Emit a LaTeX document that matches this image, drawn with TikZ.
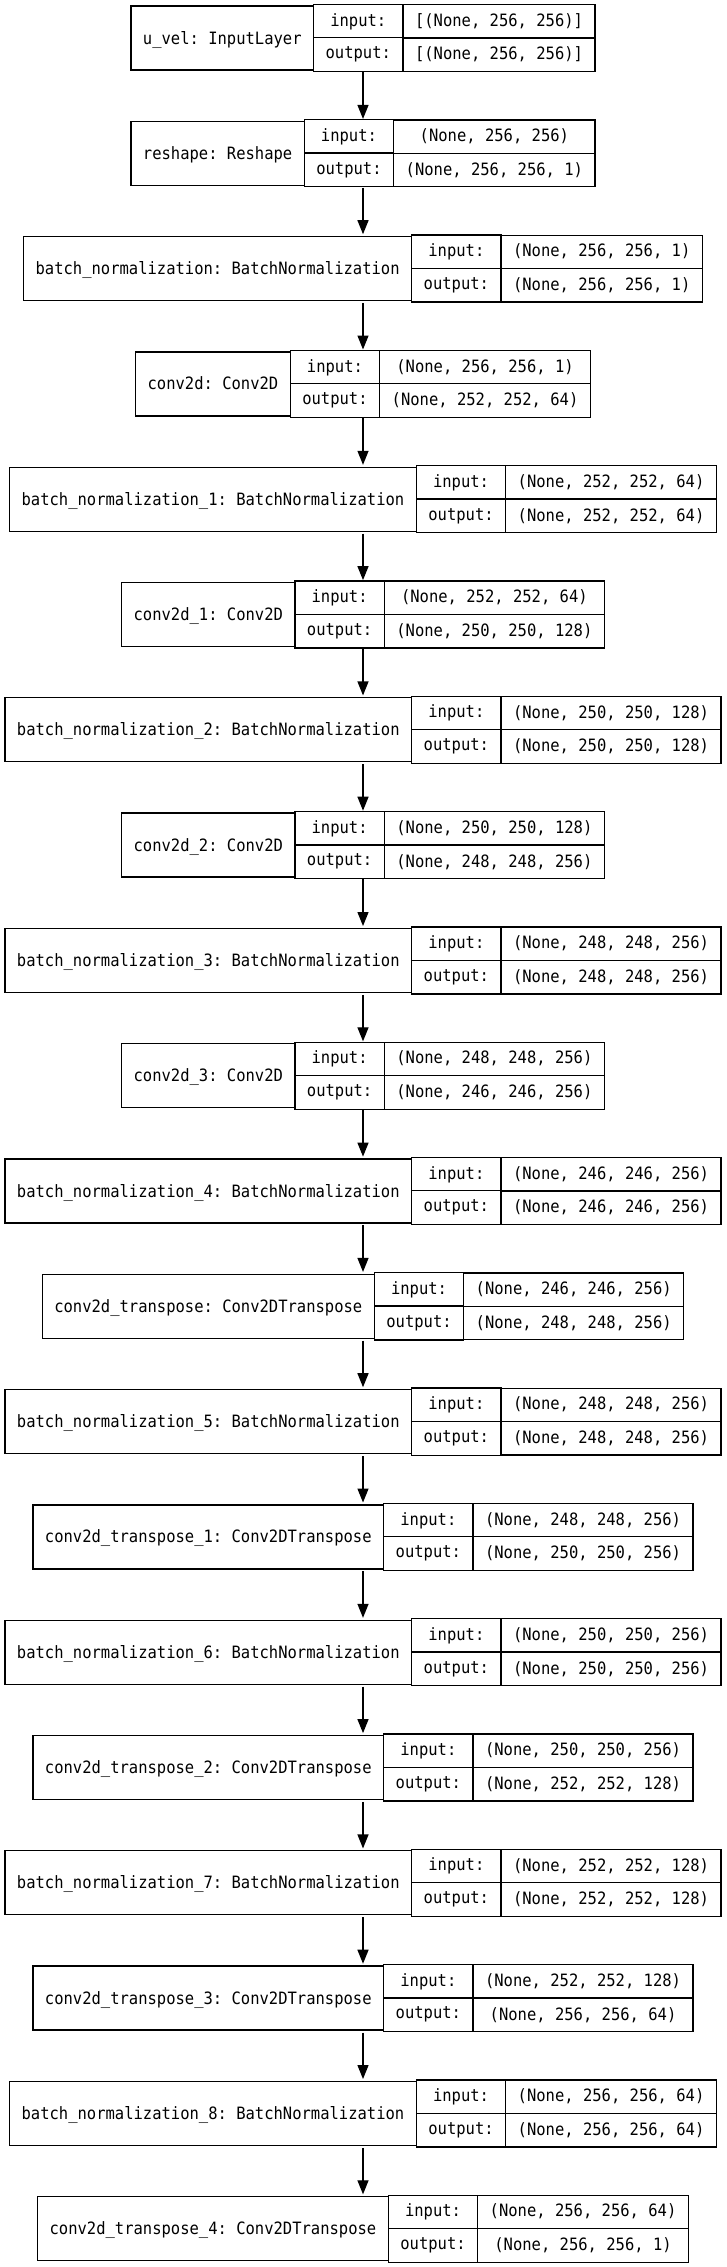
\documentclass[tikz,border=0pt]{standalone}
\usepackage{fontspec}
\setmonofont[FakeStretch=0.912]{DejaVu Sans Mono}
\usetikzlibrary{matrix,shapes.multipart,arrows.meta,positioning}

\begin{document}
\begin{tikzpicture}[x=1pt,y=-1pt,
    layer/.style={matrix of nodes, inner sep=0pt, column sep=-1.3pt,
        nodes={draw, line width=1.3pt, anchor=center, inner xsep=12pt, inner ysep=8.5pt,
            text height=12.5pt, text depth=2.5pt, font=\ttfamily\fontsize{17}{20}\selectfont},
        column 1/.style={nodes={minimum height=64pt, text height=13pt, text depth=1pt}},
        column 2/.style={nodes={rectangle split, rectangle split parts=2}},
        column 3/.style={nodes={rectangle split, rectangle split parts=2}}},
    flow/.style={line width=1.3pt, -{Triangle[length=14pt,width=11pt]}}]
    \useasboundingbox (0,0) rectangle (726,2267);

    \matrix (input) [layer] at (363,38) {u\_vel: InputLayer & input:\nodepart{two}output: & {[(None, 256, 256)]}\nodepart{two}{[(None, 256, 256)]} \\};
    \matrix (reshape) [layer] at (363,153.3) {reshape: Reshape & input:\nodepart{two}output: & (None, 256, 256)\nodepart{two}(None, 256, 256, 1) \\};
    \matrix (bn) [layer] at (363,268.6) {batch\_normalization: BatchNormalization & input:\nodepart{two}output: & (None, 256, 256, 1)\nodepart{two}(None, 256, 256, 1) \\};
    \matrix (conv) [layer] at (363,383.9) {conv2d: Conv2D & input:\nodepart{two}output: & (None, 256, 256, 1)\nodepart{two}(None, 252, 252, 64) \\};
    \matrix (bn1) [layer] at (363,499.2) {batch\_normalization\_1: BatchNormalization & input:\nodepart{two}output: & (None, 252, 252, 64)\nodepart{two}(None, 252, 252, 64) \\};
    \matrix (conv1) [layer] at (363,614.5) {conv2d\_1: Conv2D & input:\nodepart{two}output: & (None, 252, 252, 64)\nodepart{two}(None, 250, 250, 128) \\};
    \matrix (bn2) [layer] at (363,729.8) {batch\_normalization\_2: BatchNormalization & input:\nodepart{two}output: & (None, 250, 250, 128)\nodepart{two}(None, 250, 250, 128) \\};
    \matrix (conv2) [layer] at (363,845.1) {conv2d\_2: Conv2D & input:\nodepart{two}output: & (None, 250, 250, 128)\nodepart{two}(None, 248, 248, 256) \\};
    \matrix (bn3) [layer] at (363,960.4) {batch\_normalization\_3: BatchNormalization & input:\nodepart{two}output: & (None, 248, 248, 256)\nodepart{two}(None, 248, 248, 256) \\};
    \matrix (conv3) [layer] at (363,1075.7) {conv2d\_3: Conv2D & input:\nodepart{two}output: & (None, 248, 248, 256)\nodepart{two}(None, 246, 246, 256) \\};
    \matrix (bn4) [layer] at (363,1191) {batch\_normalization\_4: BatchNormalization & input:\nodepart{two}output: & (None, 246, 246, 256)\nodepart{two}(None, 246, 246, 256) \\};
    \matrix (tconv) [layer] at (363,1306.3) {conv2d\_transpose: Conv2DTranspose & input:\nodepart{two}output: & (None, 246, 246, 256)\nodepart{two}(None, 248, 248, 256) \\};
    \matrix (bn5) [layer] at (363,1421.6) {batch\_normalization\_5: BatchNormalization & input:\nodepart{two}output: & (None, 248, 248, 256)\nodepart{two}(None, 248, 248, 256) \\};
    \matrix (tconv1) [layer] at (363,1536.9) {conv2d\_transpose\_1: Conv2DTranspose & input:\nodepart{two}output: & (None, 248, 248, 256)\nodepart{two}(None, 250, 250, 256) \\};
    \matrix (bn6) [layer] at (363,1652.2) {batch\_normalization\_6: BatchNormalization & input:\nodepart{two}output: & (None, 250, 250, 256)\nodepart{two}(None, 250, 250, 256) \\};
    \matrix (tconv2) [layer] at (363,1767.5) {conv2d\_transpose\_2: Conv2DTranspose & input:\nodepart{two}output: & (None, 250, 250, 256)\nodepart{two}(None, 252, 252, 128) \\};
    \matrix (bn7) [layer] at (363,1882.8) {batch\_normalization\_7: BatchNormalization & input:\nodepart{two}output: & (None, 252, 252, 128)\nodepart{two}(None, 252, 252, 128) \\};
    \matrix (tconv3) [layer] at (363,1998.1) {conv2d\_transpose\_3: Conv2DTranspose & input:\nodepart{two}output: & (None, 252, 252, 128)\nodepart{two}(None, 256, 256, 64) \\};
    \matrix (bn8) [layer] at (363,2113.4) {batch\_normalization\_8: BatchNormalization & input:\nodepart{two}output: & (None, 256, 256, 64)\nodepart{two}(None, 256, 256, 64) \\};
    \matrix (tconv4) [layer] at (363,2228.7) {conv2d\_transpose\_4: Conv2DTranspose & input:\nodepart{two}output: & (None, 256, 256, 64)\nodepart{two}(None, 256, 256, 1) \\};

    \path[draw,flow] (input) -- (reshape);
    \path[draw,flow] (reshape) -- (bn);
    \path[draw,flow] (bn) -- (conv);
    \path[draw,flow] (conv) -- (bn1);
    \path[draw,flow] (bn1) -- (conv1);
    \path[draw,flow] (conv1) -- (bn2);
    \path[draw,flow] (bn2) -- (conv2);
    \path[draw,flow] (conv2) -- (bn3);
    \path[draw,flow] (bn3) -- (conv3);
    \path[draw,flow] (conv3) -- (bn4);
    \path[draw,flow] (bn4) -- (tconv);
    \path[draw,flow] (tconv) -- (bn5);
    \path[draw,flow] (bn5) -- (tconv1);
    \path[draw,flow] (tconv1) -- (bn6);
    \path[draw,flow] (bn6) -- (tconv2);
    \path[draw,flow] (tconv2) -- (bn7);
    \path[draw,flow] (bn7) -- (tconv3);
    \path[draw,flow] (tconv3) -- (bn8);
    \path[draw,flow] (bn8) -- (tconv4);
\end{tikzpicture}
\end{document}
